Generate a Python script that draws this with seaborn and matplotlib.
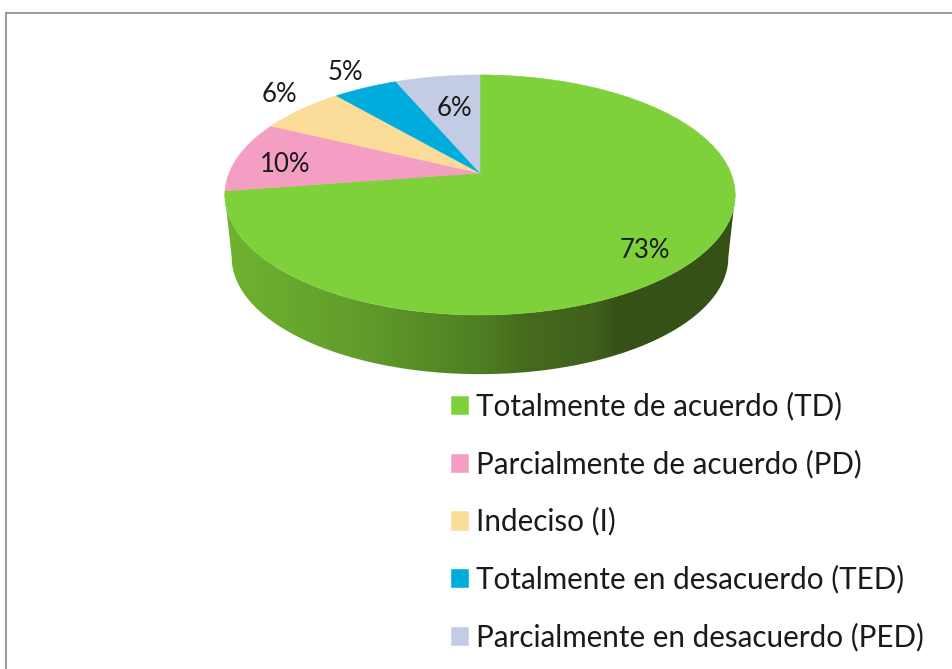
import matplotlib
matplotlib.use("Agg")
import matplotlib.pyplot as plt
from matplotlib.colors import LinearSegmentedColormap
from matplotlib.patches import Polygon
from matplotlib.transforms import Transform
import numpy as np
import seaborn as sns

categorias = ["Totalmente de acuerdo (TD)", "Parcialmente de acuerdo (PD)", "Indeciso (I)",
              "Totalmente en desacuerdo (TED)", "Parcialmente en desacuerdo (PED)"]
valores = [72.6, 9.6, 6.5, 4.9, 6.4]
etiquetas = ["73%", "10%", "6%", "5%", "6%"]
colores = ["#7ED13B", "#F49EC4", "#FBDC98", "#00ACDB", "#C3CCE4"]

# posicion de las etiquetas en pixeles
etiqueta_x = [645, 285, 279, 345, 454]
etiqueta_y = [250, 164, 94, 72, 108]

# perspectiva del disco
cx, cy = 480, 173
k, a, b = 0.183, 116, 250.9
# la base del cilindro
escala_base, cy_base = 0.973, 236


class Perspectiva(Transform):
    input_dims = 2
    output_dims = 2
    is_separable = False
    has_inverse = False

    def transform_non_affine(self, values):
        values = np.asarray(values)
        d = 1 + k * values[:, 1]
        return np.column_stack([cx + b * values[:, 0] / d, cy - a * values[:, 1] / d])


sns.set_theme(style="white")
plt.rcParams["font.family"] = ["Lato", "DejaVu Sans"]

fig = plt.figure(figsize=(9.52, 6.69), dpi=100)
ax = fig.add_axes([6 / 952, 0, 946 / 952, 1 - 12.5 / 669])

wedges, _ = ax.pie(valores, colors=sns.color_palette(colores), startangle=90, counterclock=False,
                   wedgeprops={"linewidth": 0.4})
persp = Perspectiva()
for w, c in zip(wedges, colores):
    w.set_edgecolor(c)
    w.set_transform(persp + ax.transData)
    w.set_zorder(3)

# costado con degradado
t0 = np.arcsin(k)
t = np.linspace(np.pi + t0, 2 * np.pi - t0, 200)
borde = persp.transform_non_affine(np.column_stack([np.cos(t), np.sin(t)]))
base = np.column_stack([cx + escala_base * (borde[:, 0] - cx), cy_base + escala_base * (borde[:, 1] - cy)])
costado = Polygon(np.vstack([borde, base[::-1]]), closed=True, transform=ax.transData, fc="none", ec="none")
ax.add_patch(costado)
degradado = LinearSegmentedColormap.from_list("costado", [
    (0.0, "#6FB330"), (0.25, "#629E2C"), (0.5, "#4E7F23"), (0.58, "#466C1E"),
    (0.72, "#3F601B"), (0.78, "#355116"), (1.0, "#355116")])
img = ax.imshow(np.linspace(0, 1, 256)[None, :], cmap=degradado, aspect="auto",
                extent=(224, 736, 380, 170), zorder=2)
img.set_clip_path(costado)

ax.set_aspect("auto")
ax.set_xlim(6, 952)
ax.set_ylim(669, 12.5)
ax.set_frame_on(True)
ax.set_xticks([])
ax.set_yticks([])
sns.despine(ax=ax, top=False, right=True, left=False, bottom=True)
for lado in ["top", "left"]:
    ax.spines[lado].set_color("#8C8C8C")
    ax.spines[lado].set_linewidth(1.2)

for x, y, txt in zip(etiqueta_x, etiqueta_y, etiquetas):
    ax.text(x, y, txt, ha="center", va="center", fontsize=18.5, color="#1A1A1A", zorder=4)

ax.legend(wedges, categorias, loc="upper left", bbox_to_anchor=(436 / 946, 1 - (383 - 12.5) / 656.5),
          frameon=False, fontsize=21.3, labelcolor="#1A1A1A", handlelength=0.57, handleheight=0.57,
          handletextpad=0.27, labelspacing=0.98, borderpad=0.3, borderaxespad=0)

plt.savefig("out.png", dpi=100)
